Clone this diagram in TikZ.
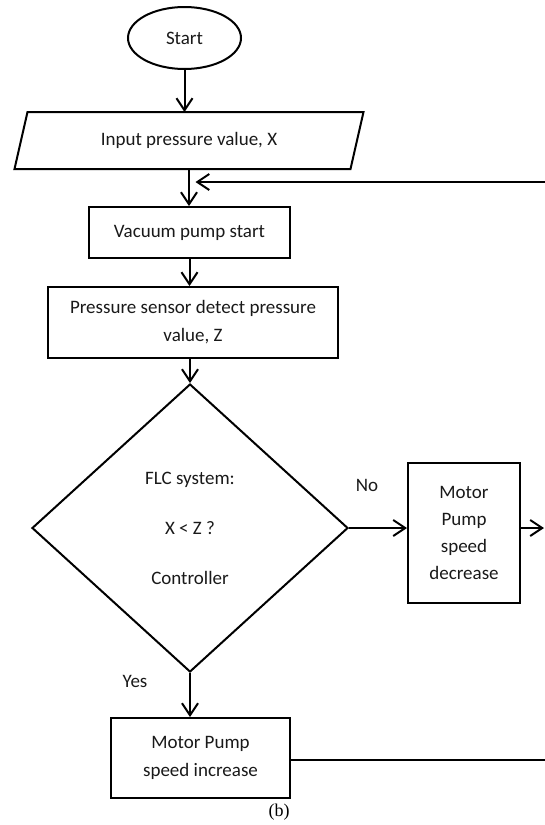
\documentclass[tikz,border=0pt]{standalone}
\usepackage{fontspec}
\setmainfont{Carlito}
\newfontfamily\capfont{Liberation Serif}
\usepackage{tikz}
\usetikzlibrary{arrows.meta,shapes.geometric}

\begin{document}
\begin{tikzpicture}[x=1pt,y=-1pt
	,->,>={Straight Barb[length=12pt,width=16pt]}
	,line width=2pt
	,font=\fontsize{19}{28}\selectfont,
              text=black!90]
  \tikzstyle{proc}
  =[draw=black,rectangle,align=center,inner sep=0pt]
  \tikzstyle{io}
  =[rectangle,align=center,inner sep=0pt]
  \tikzstyle{term}
  =[draw=black,ellipse,inner sep=0pt]
  \tikzstyle{decision}
  =[draw=black,diamond,align=center,inner sep=0pt]

  \useasboundingbox (0,0) rectangle (545,825);

  % start and input
  \node[term,minimum width=113,minimum height=62](start) at (184.5,38) {Start};
  \node[io,minimum width=334,minimum height=55](input) at (189,140.5) {Input pressure value, X};
  \draw[-] ([xshift=6.5]input.north west) -- ([xshift=6.5]input.north east)
    -- ([xshift=-6.5]input.south east) -- ([xshift=-6.5]input.south west) -- cycle;
  % pump and sensor
  \node[proc,minimum width=201,minimum height=51](vacuum) at (189.5,232.5) {Vacuum pump start};
  \node[proc,minimum width=290,minimum height=71](sensor) at (193,322.5) {Pressure sensor detect pressure\\value, Z};
  % decision
  \node[decision,minimum width=316,minimum height=288
  ,font=\fontsize{19}{50}\selectfont](flc) at (190,528) {FLC system:\\X < Z ?\\Controller};
  % two branches
  \node[proc,minimum width=112,minimum height=140
  ,font=\fontsize{19}{27}\selectfont](decrease) at (464,533) {Motor\\Pump\\speed\\decrease};
  \node[proc,minimum width=179,minimum height=80](increase) at (200.5,758) {Motor Pump\\speed increase};
  \node[](no) at (367,485) {No};
  \node[](yes) at (135,681) {Yes};
  \node[font=\capfont\fontsize{18}{20}\selectfont,text=black](cap) at (279,812) {(b)};
  % loose ends at the right border
  \coordinate (fbin) at (545,182);
  \coordinate (decout) at (544,528);
  \coordinate (incout) at (545,760);

  % main column, top to bottom
  \path [      ] (start.south)          edge  (start.south |- input.north);
  \path [      ] (input.south)          edge  (input.south |- vacuum.north);
  \path [      ] (vacuum.south)         edge  (vacuum.south |- sensor.north);
  \path [      ] (flc.north |- sensor.south) edge (flc.north);
  \path [      ] (flc.south)            edge  (flc.south |- increase.north);
  % no branch
  \path [      ] (flc.east)             edge  (flc.east -| decrease.west);
  \path [      ] (flc.east -| decrease.east) edge (decout);
  % back to the pump
  \path [      ] (increase.east |- incout) edge[-] (incout);
  \path [      ] (fbin)                 edge[shorten >=6pt] (fbin -| vacuum.north);
\end{tikzpicture}
\end{document}
